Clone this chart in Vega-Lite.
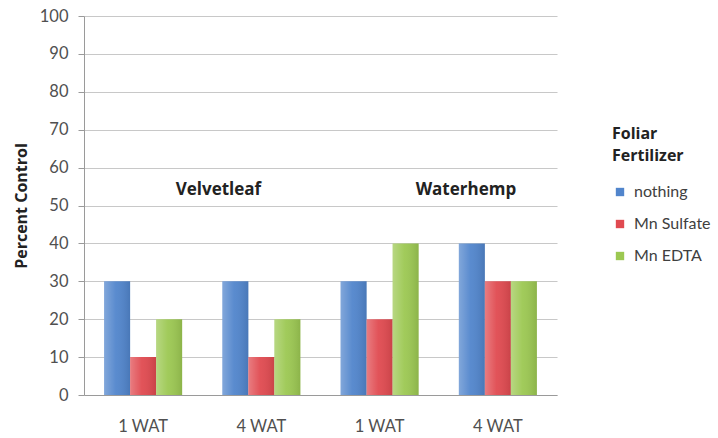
{
  "$schema": "https://vega.github.io/schema/vega-lite/v6.json",
  "width": 473,
  "height": 379,
  "autosize": {"type": "none"},
  "padding": {"left": 84, "top": 16, "right": 161, "bottom": 43},
  "background": "#ffffff",
  "config": {
    "font": "Lato",
    "view": {"stroke": null},
    "axis": {"labelFont": "Lato", "titleFont": "Open Sans"},
    "legend": {"labelFont": "Lato", "titleFont": "Open Sans"}
  },
  "datasets": {
    "bars": [
      {"group": "V1", "fert": "nothing", "pct": 30},
      {"group": "V1", "fert": "Mn Sulfate", "pct": 10},
      {"group": "V1", "fert": "Mn EDTA", "pct": 20},
      {"group": "V4", "fert": "nothing", "pct": 30},
      {"group": "V4", "fert": "Mn Sulfate", "pct": 10},
      {"group": "V4", "fert": "Mn EDTA", "pct": 20},
      {"group": "W1", "fert": "nothing", "pct": 30},
      {"group": "W1", "fert": "Mn Sulfate", "pct": 20},
      {"group": "W1", "fert": "Mn EDTA", "pct": 40},
      {"group": "W4", "fert": "nothing", "pct": 40},
      {"group": "W4", "fert": "Mn Sulfate", "pct": 30},
      {"group": "W4", "fert": "Mn EDTA", "pct": 30}
    ]
  },
  "encoding": {
    "x": {
      "field": "group", "type": "nominal",
      "sort": ["V1", "V4", "W1", "W4"],
      "scale": {"paddingInner": 0.34, "paddingOuter": 0.17},
      "axis": {
        "title": null,
        "labelExpr": "slice(datum.value, 1) + ' WAT'",
        "labelAngle": 0,
        "labelFontSize": 16.5,
        "labelColor": "#505050",
        "labelPadding": 23,
        "ticks": false,
        "domainColor": "#9a9a9a",
        "grid": false
      }
    },
    "y": {
      "field": "pct", "type": "quantitative",
      "scale": {"domain": [0, 100], "nice": false},
      "axis": {
        "title": "Percent Control",
        "titleFontSize": 16,
        "titleFontWeight": "bold",
        "titleColor": "#222222",
        "titlePadding": 10,
        "values": [0, 10, 20, 30, 40, 50, 60, 70, 80, 90, 100],
        "labelFontSize": 16.5,
        "labelColor": "#505050",
        "labelPadding": 10,
        "tickSize": 6,
        "tickColor": "#9a9a9a",
        "domainColor": "#9a9a9a",
        "gridColor": "#c8c8c8",
        "gridWidth": 1.2
      }
    }
  },
  "layer": [
    {
      "data": {"name": "bars"},
      "mark": {"type": "bar"},
      "encoding": {
        "xOffset": {"field": "fert", "type": "nominal", "sort": ["nothing", "Mn Sulfate", "Mn EDTA"], "scale": {"paddingInner": 0, "paddingOuter": 0}},
        "color": {
          "field": "fert", "type": "nominal",
          "sort": ["nothing", "Mn Sulfate", "Mn EDTA"],
          "scale": {"domain": ["nothing", "Mn Sulfate", "Mn EDTA"], "range": ["#5185cc", "#e04a50", "#9cc852"]},
          "legend": {
            "title": ["Foliar", "Fertilizer"],
            "titleFontSize": 16,
            "titleFontWeight": "bold",
            "titleColor": "#222222",
            "titlePadding": 20,
            "titleLineHeight": 22,
            "labelFontSize": 16,
            "labelColor": "#404040",
            "symbolType": "square",
            "symbolSize": 70,
            "symbolStrokeWidth": 0,
            "rowPadding": 16,
            "labelOffset": 6,
            "orient": "none",
            "legendX": 528,
            "legendY": 110
          }
        }
      }
    },
    {
      "data": {"name": "bars"},
      "mark": {
        "type": "bar",
        "fill": {
          "gradient": "linear", "x1": 0, "x2": 1, "y1": 0, "y2": 0,
          "stops": [
            {"offset": 0, "color": "rgba(255,255,255,0.28)"},
            {"offset": 0.45, "color": "rgba(255,255,255,0.05)"},
            {"offset": 1, "color": "rgba(0,0,0,0.10)"}
          ]
        }
      },
      "encoding": {
        "xOffset": {"field": "fert", "type": "nominal", "sort": ["nothing", "Mn Sulfate", "Mn EDTA"]}
      }
    },
    {
      "data": {"values": [{"group": "V4", "pct": 54, "label": "Velvetleaf"}]},
      "mark": {"type": "text", "font": "Open Sans", "fontWeight": "bold", "fontSize": 17, "color": "#222222", "baseline": "middle", "align": "center"},
      "encoding": {
        "x": {"field": "group", "type": "nominal", "bandPosition": -0.05},
        "text": {"field": "label"}
      }
    },
    {
      "data": {"values": [{"group": "W4", "pct": 54, "label": "Waterhemp"}]},
      "mark": {"type": "text", "font": "Open Sans", "fontWeight": "bold", "fontSize": 17, "color": "#222222", "baseline": "middle", "align": "center"},
      "encoding": {
        "x": {"field": "group", "type": "nominal", "bandPosition": 0.09},
        "text": {"field": "label"}
      }
    }
  ]
}
